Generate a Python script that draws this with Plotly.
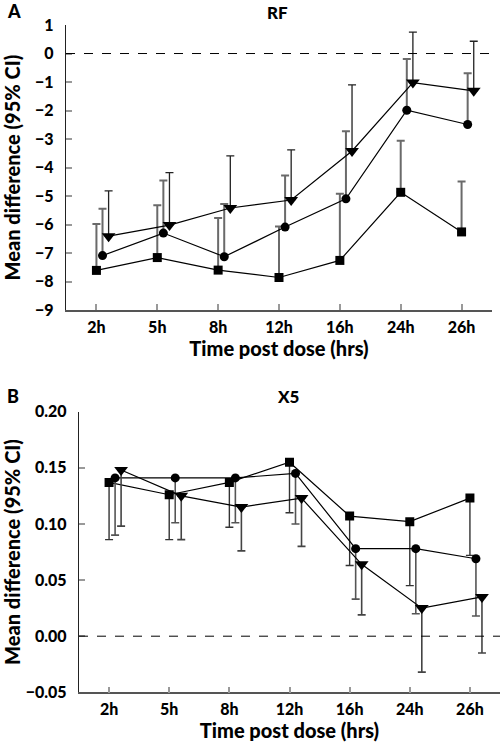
import plotly.graph_objects as go

# ---------------- data ----------------
categories = ["2h", "5h", "8h", "12h", "16h", "24h", "26h"]

# Panel A: RF (upper 95% CI limits shown)
rf_square = [-7.61, -7.16, -7.60, -7.86, -7.26, -4.87, -6.26]
rf_square_upper = [-5.98, -5.32, -5.77, -6.07, -4.92, -3.06, -4.49]
rf_circle = [-7.09, -6.30, -7.13, -6.09, -5.10, -1.99, -2.49]
rf_circle_upper = [-5.45, -4.46, -5.28, -4.28, -2.73, -0.19, -0.69]
rf_triangle = [-6.41, -6.02, -5.42, -5.14, -3.42, -1.02, -1.31]
rf_triangle_upper = [-4.82, -4.18, -3.59, -3.38, -1.10, 0.75, 0.43]

# Panel B: X5 (lower 95% CI limits shown)
x5_square = [0.137, 0.126, 0.137, 0.155, 0.107, 0.102, 0.123]
x5_square_lower = [0.086, 0.086, 0.097, 0.110, 0.063, 0.045, 0.072]
x5_circle = [0.141, 0.141, 0.141, 0.145, 0.078, 0.078, 0.069]
x5_circle_lower = [0.090, 0.101, 0.101, 0.100, 0.033, 0.020, 0.018]
x5_triangle = [0.148, 0.125, 0.115, 0.123, 0.064, 0.025, 0.035]
x5_triangle_lower = [0.098, 0.086, 0.076, 0.080, 0.019, -0.032, -0.015]

rf_ticks = [1, 0, -1, -2, -3, -4, -5, -6, -7, -8, -9]
x5_ticks = [0.20, 0.15, 0.10, 0.05, 0.00, -0.05]

# ---------------- figure ----------------
FONT = "Lato"
idx = list(range(len(categories)))
offsets = {"square": 0.0, "circle": 0.1, "triangle-down": 0.2}
sizes = {"square": 9, "circle": 9, "triangle-down": 12}

fig = go.Figure()


def add_series(vals, bound, symbol, xa, ya, upper, ecolor, ewidth):
    xs = [i + offsets[symbol] for i in idx]
    if upper:
        err = dict(type="data", symmetric=False,
                   array=[b - v for b, v in zip(bound, vals)],
                   arrayminus=[0] * len(vals))
    else:
        err = dict(type="data", symmetric=False,
                   array=[0] * len(vals),
                   arrayminus=[v - b for b, v in zip(bound, vals)])
    err.update(color=ecolor, thickness=ewidth, width=4)
    fig.add_trace(go.Scatter(
        x=xs, y=vals, xaxis=xa, yaxis=ya, mode="lines+markers",
        line=dict(color="black", width=1.2),
        marker=dict(symbol=symbol, size=sizes[symbol], color="black"),
        error_y=err, showlegend=False, hoverinfo="skip"))


add_series(rf_square, rf_square_upper, "square", "x", "y", True, "#6a6a6a", 2)
add_series(rf_circle, rf_circle_upper, "circle", "x", "y", True, "#6a6a6a", 2)
add_series(rf_triangle, rf_triangle_upper, "triangle-down", "x", "y", True, "#222222", 1.3)

add_series(x5_square, x5_square_lower, "square", "x2", "y2", False, "#333333", 1.4)
add_series(x5_circle, x5_circle_lower, "circle", "x2", "y2", False, "#555555", 1.6)
add_series(x5_triangle, x5_triangle_lower, "triangle-down", "x2", "y2", False, "#444444", 1.6)

tickfont = dict(family=FONT, size=16, color="black", weight=900)
titlefont = dict(family=FONT, size=20, color="black", weight=900)

common_x = dict(range=[-0.5, 6.5], tickmode="array", tickvals=idx, ticktext=categories,
                ticks="inside", ticklen=6, tickcolor="#999999", tickwidth=1.5,
                showline=True, linecolor="#555555", linewidth=1.5,
                showgrid=False, zeroline=False, tickfont=tickfont,
                ticklabelstandoff=2, automargin=False)
common_y = dict(ticks="inside", ticklen=6, tickcolor="#999999", tickwidth=1.5,
                showline=True, linecolor="#222222", linewidth=1.3,
                showgrid=False, zeroline=False, tickfont=tickfont,
                ticklabelstandoff=8, automargin=False)

fig.update_layout(
    width=500, height=747,
    margin=dict(l=0, r=0, t=0, b=0, autoexpand=False),
    paper_bgcolor="white", plot_bgcolor="white",
    font=dict(family=FONT, color="black"),
    xaxis=dict(common_x, domain=[0.132, 0.984], anchor="y",
               title=dict(text="Time post dose (hrs)", font=titlefont, standoff=4)),
    yaxis=dict(common_y, domain=[0.585, 0.9665], anchor="x", range=[-9, 1],
               tickmode="array", tickvals=rf_ticks,
               ticktext=[str(t).replace("-", "\u2212") for t in rf_ticks],
               title=dict(text="Mean difference (95% CI)", font=titlefont, standoff=10)),
    xaxis2=dict(common_x, domain=[0.158, 1.0], anchor="y2",
                title=dict(text="Time post dose (hrs)", font=titlefont, standoff=4)),
    yaxis2=dict(common_y, domain=[0.0732, 0.4489], anchor="x2", range=[-0.05, 0.20],
                tickmode="array", tickvals=x5_ticks,
                ticktext=[f"{t:.2f}".replace("-", "\u2212") for t in x5_ticks],
                title=dict(text="Mean difference (95% CI)", font=titlefont, standoff=10)),
    shapes=[
        dict(type="line", xref="x domain", yref="y", x0=0, x1=1, y0=0, y1=0,
             line=dict(color="black", width=1, dash="dash")),
        dict(type="line", xref="x2 domain", yref="y2", x0=0, x1=1, y0=0, y1=0,
             line=dict(color="black", width=1, dash="dash")),
    ],
    annotations=[
        dict(text="A", x=5 / 500, y=1 - 11 / 747, xref="paper", yref="paper",
             showarrow=False, xanchor="left", yanchor="middle",
             font=dict(family=FONT, size=18, color="black", weight=900)),
        dict(text="RF", x=277 / 500, y=1 - 13 / 747, xref="paper", yref="paper",
             showarrow=False, xanchor="center", yanchor="middle",
             font=dict(family=FONT, size=17, color="black", weight=900)),
        dict(text="B", x=5 / 500, y=1 - 396 / 747, xref="paper", yref="paper",
             showarrow=False, xanchor="left", yanchor="middle",
             font=dict(family=FONT, size=18, color="black", weight=900)),
        dict(text="X5", x=288 / 500, y=1 - 397 / 747, xref="paper", yref="paper",
             showarrow=False, xanchor="center", yanchor="middle",
             font=dict(family=FONT, size=17, color="black", weight=900)),
    ],
)

fig.write_html("out.html", config={"displayModeBar": False},
               post_script="document.body.style.margin='0';")
